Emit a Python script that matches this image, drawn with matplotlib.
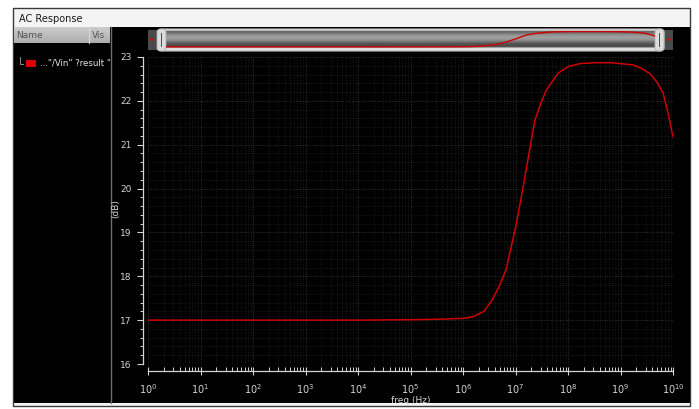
import numpy as np
import matplotlib
matplotlib.use("Agg")
import matplotlib.pyplot as plt
from matplotlib.patches import Rectangle, FancyBboxPatch, Polygon
from matplotlib.lines import Line2D
from matplotlib.ticker import FixedLocator, LogLocator, MultipleLocator, NullFormatter

# AC sweep of the "/Vin" result: frequency (Hz) and magnitude (dB)
freq_hz = [1, 10, 1e2, 1e3, 1e4, 1e5, 3.16e5, 1e6, 1.58e6, 2.51e6, 3.55e6,
           5.01e6, 6.61e6, 1e7, 1.26e7, 1.58e7, 2.34e7, 3.16e7, 3.89e7,
           6.46e7, 1e8, 1.7e8, 3.16e8, 6.31e8, 1e9, 1.74e9, 2.51e9, 3.63e9,
           5.01e9, 6.46e9, 7.94e9, 1e10]
gain_db = [17.00, 17.00, 17.00, 17.00, 17.00, 17.01, 17.02, 17.04, 17.08,
           17.20, 17.45, 17.80, 18.15, 19.10, 19.74, 20.40, 21.56, 22.00,
           22.25, 22.63, 22.78, 22.85, 22.87, 22.87, 22.85, 22.82, 22.74,
           22.62, 22.42, 22.18, 21.75, 21.18]

y_ticks = [16, 17, 18, 19, 20, 21, 22, 23]
x_decades = list(range(0, 11))
trace_name = '..."/Vin" ?result "ac'
window_title = "AC Response"
x_label = "freq (Hz)"
y_label = "(dB)"

W, H = 699, 409
fig = plt.figure(figsize=(W / 100, H / 100), dpi=100, facecolor="white")

# ---- window chrome, drawn in pixel coordinates ----
bg = fig.add_axes([0, 0, 1, 1])
bg.set_xlim(0, W)
bg.set_ylim(H, 0)
bg.set_aspect("auto")
bg.axis("off")


def rect(x0, y0, x1, y1, z=2, **kw):
    p = Rectangle((x0, y0), x1 - x0, y1 - y0, zorder=z, **kw)
    bg.add_patch(p)
    return p


rect(13, 8, 690, 406, z=1, facecolor="#f4f4f4", edgecolor="#3a3a3a", lw=1)
rect(14, 27, 689.5, 403, z=1.5, facecolor="black", edgecolor="none")
bg.text(19, 18.5, window_title, fontsize=7, va="center", ha="left",
        color="#1a1a1a", zorder=5)

# signal list header
hdr = np.linspace(0.80, 0.68, 16)[:, None]
bg.imshow(hdr, cmap="gray", vmin=0, vmax=1, extent=(14, 110, 43, 27),
          aspect="auto", interpolation="bilinear", zorder=3)
bg.add_line(Line2D([89, 89], [27, 43], color="#d8d8d8", lw=0.8, zorder=4))
bg.text(16, 35, "Name", fontsize=6.5, va="center", ha="left",
        color="#555555", zorder=5)
bg.text(91.5, 35, "Vis", fontsize=6.5, va="center", ha="left",
        color="#555555", zorder=5)
bg.add_line(Line2D([110.5, 110.5], [27, 403], color="#6e6e6e", lw=1,
                   zorder=4))

# trace entry
bg.add_line(Line2D([20, 20, 23], [57, 64, 64], color="#8a8a8a", lw=0.7,
                   zorder=4))
rect(26, 60, 36, 67, z=4, facecolor="#e00000", edgecolor="none")
clip = Rectangle((14, 50), 96, 20, transform=bg.transData)
t = bg.text(39.5, 63.5, trace_name, fontsize=6.2, va="center", ha="left",
            color="#e8e8e8", zorder=5, clip_on=True)
t.set_clip_path(clip)

# overview scrollbar
track = FancyBboxPatch((158, 29), 506, 22,
                       boxstyle="round,pad=0,rounding_size=4",
                       facecolor="none", edgecolor="#c8c8c8", lw=0.8,
                       zorder=4)
bg.add_patch(track)
shade = np.array([0.86, 0.74, 0.40, 0.43, 0.48, 0.54, 0.58, 0.61, 0.62,
                  0.61, 0.58, 0.53, 0.47, 0.40, 0.35, 0.31, 0.30, 0.32,
                  0.62, 0.86, 0.90, 0.82])[:, None]
im = bg.imshow(shade, cmap="gray", vmin=0, vmax=1,
               extent=(158, 664, 51, 29), aspect="auto",
               interpolation="bilinear", zorder=3)
im.set_clip_path(track)

rect(148, 30, 158, 50, z=3, facecolor="#4a4a4a", edgecolor="none")
rect(664, 30, 673, 50, z=3, facecolor="#4a4a4a", edgecolor="none")
bg.add_patch(Polygon([(150, 39.5), (154, 37.3), (154, 41.7)], closed=True,
                     facecolor="#e00000", edgecolor="none", zorder=5))
bg.add_patch(Polygon([(671, 39.5), (667, 37.3), (667, 41.7)], closed=True,
                     facecolor="#e00000", edgecolor="none", zorder=5))
for hx in (157, 655):
    bg.add_patch(FancyBboxPatch((hx, 29), 9, 22,
                                boxstyle="round,pad=0,rounding_size=3",
                                facecolor="#dcdcdc", edgecolor="#b0b0b0",
                                lw=0.6, zorder=5))
    rect(hx + 3.5, 33, hx + 5.2, 46.5, z=6, facecolor="#505050",
         edgecolor="none")

# overview trace inside the scrollbar
ov = fig.add_axes([166 / W, 1 - 47.5 / H, (655 - 166) / W, 16.5 / H])
ov.set_xscale("log")
ov.plot(freq_hz, gain_db, color="#d00000", lw=1.0)
ov.set_xlim(1, 1e10)
ov.set_ylim(16.75, 23.1)
ov.axis("off")
ov.patch.set_alpha(0)

# ---- main plot ----
ax = fig.add_axes([148 / W, 1 - 364 / H, 525 / W, 307 / H])
ax.set_facecolor("black")
ax.plot(freq_hz, gain_db, color="#d00000", lw=1.1, zorder=3)
ax.set_xscale("log")
ax.set_xlim(1, 1e10)
ax.set_ylim(16, 23)

axis_col = "#d4d4d4"
for s in ("top", "right"):
    ax.spines[s].set_visible(False)
ax.spines["left"].set_position(("outward", 3.6))
ax.spines["bottom"].set_position(("outward", 5.0))
for s in ("left", "bottom"):
    ax.spines[s].set_color(axis_col)
    ax.spines[s].set_linewidth(0.9)

ax.xaxis.set_major_locator(FixedLocator([10.0 ** d for d in x_decades]))
ax.set_xticklabels([rf"$10^{{{d}}}$" for d in x_decades])
ax.xaxis.set_minor_locator(LogLocator(base=10, subs=range(2, 10),
                                      numticks=100))
ax.xaxis.set_minor_formatter(NullFormatter())
ax.yaxis.set_major_locator(FixedLocator(y_ticks))
ax.set_yticklabels([str(v) for v in y_ticks])
ax.yaxis.set_minor_locator(MultipleLocator(0.2))

ax.tick_params(axis="x", which="major", direction="inout", length=6,
               width=0.8, color=axis_col, labelcolor=axis_col,
               labelsize=7, pad=5)
ax.tick_params(axis="x", which="minor", direction="in", length=3,
               width=0.7, color=axis_col)
ax.tick_params(axis="y", which="major", direction="out", length=4,
               width=0.8, color=axis_col, labelcolor=axis_col,
               labelsize=6.5, pad=4)
ax.tick_params(axis="y", which="minor", direction="out", length=2.5,
               width=0.7, color=axis_col)

ax.grid(which="major", color="#2e2e2e", linestyle=(0, (1, 1.3)), lw=0.7)
ax.grid(which="minor", color="#1e1e1e", linestyle=(0, (1, 1.3)), lw=0.6)
ax.set_axisbelow(True)

fig.text(116 / W, 1 - 209 / H, y_label, rotation=90, fontsize=6.5,
         color=axis_col, ha="center", va="center")
fig.text(411 / W, 1 - 400.5 / H, x_label, fontsize=6.5, color=axis_col,
         ha="center", va="center")

fig.savefig("out.png", dpi=100, facecolor="white")
